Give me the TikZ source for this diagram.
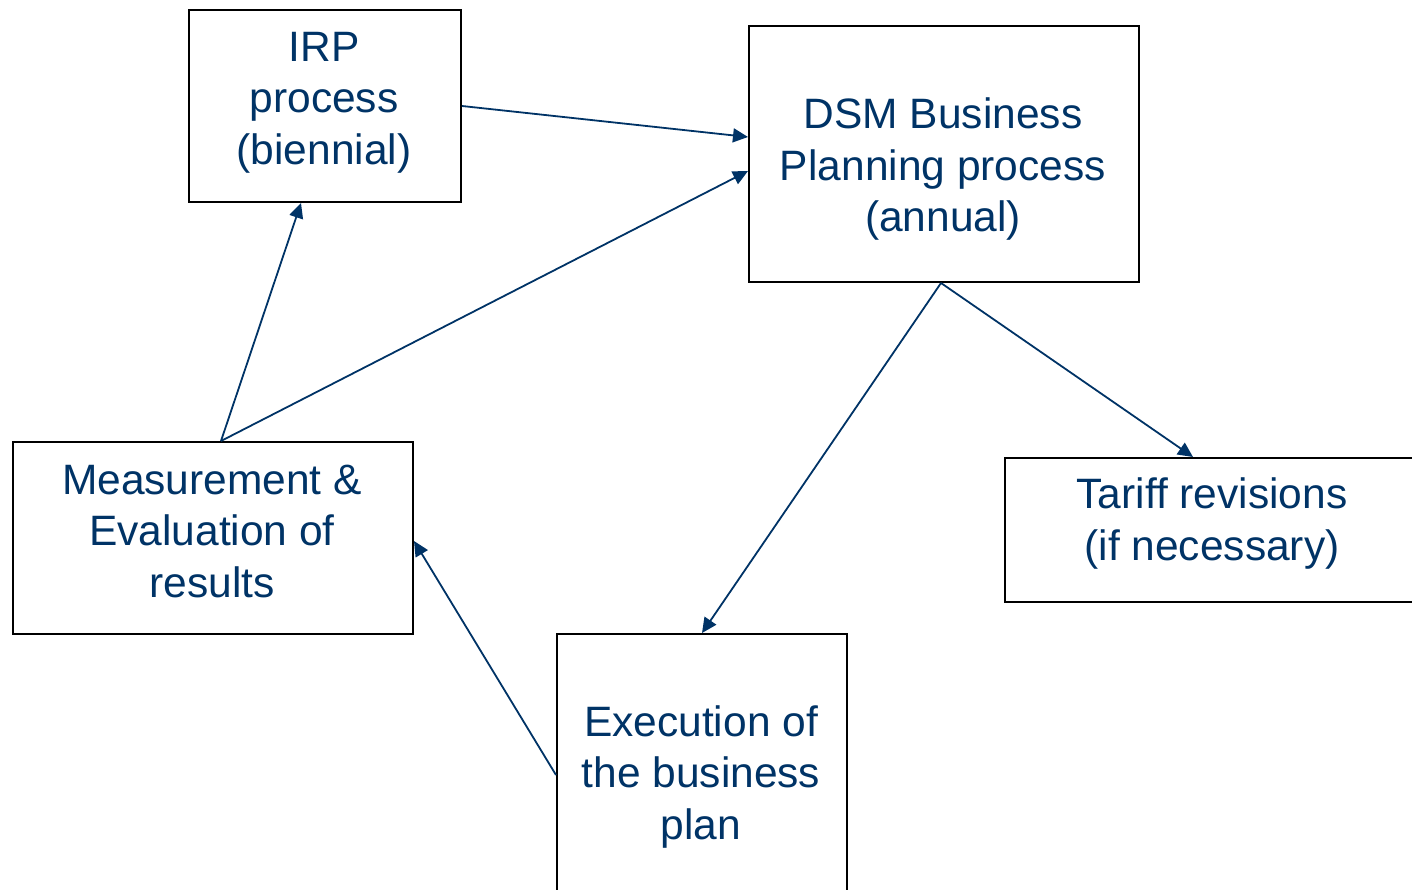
\documentclass[tikz,border=0pt]{standalone}
\usepackage{fontspec}
\setmainfont{Liberation Sans}
\usetikzlibrary{arrows.meta,calc}
\definecolor{navy}{RGB}{0,51,102}
\tikzset{
  box/.style={draw=black, line width=2pt, fill=none, inner sep=0pt, anchor=north west},
  txt/.style={text=navy, align=center, font=\fontsize{42.5}{51.5}\selectfont, inner sep=0pt},
  link/.style={draw=navy, line width=1.8pt, -{Triangle[length=15pt,width=14pt]}}
}
\begin{document}
\begin{tikzpicture}[x=1pt,y=-1pt]
\useasboundingbox (0,0) rectangle (1412,890);
% frames
\node[box, minimum width=272pt, minimum height=192pt] (irp) at (188,9) {};
\node[box, minimum width=390pt, minimum height=256pt] (dsm) at (748,25) {};
\node[box, minimum width=400pt, minimum height=192pt] (meas) at (12,441) {};
\node[box, minimum width=420pt, minimum height=144pt] (tariff) at (1004,457) {};
\node[box, minimum width=290pt, minimum height=270pt] (exec) at (556,633) {};
% captions
\node[txt] (irpT) at (324,102.5) {IRP\\process\\(biennial)};
\node[txt] (dsmT) at (943,169.5) {DSM Business\\Planning process\\(annual)};
\node[txt] (measT) at (212,531) {Measurement \&\\Evaluation of\\results};
\node[txt] (tariffT) at (1212,523.5) {Tariff revisions\\(if necessary)};
\node[txt] (execT) at (701,777) {Execution of\\the business\\plan};
% connectors
\draw[link] (irp.east) -- ($(dsm.west)+(0,-17)$);
\draw[link] ($(meas.north)+(8,0)$) -- ($(irp.south)+(-24,0)$);
\draw[link] ($(meas.north)+(8,0)$) -- ($(dsm.west)+(0,17)$);
\draw[link] ($(dsm.south)+(-3,0)$) -- ($(tariff.north west)+(189,0)$);
\draw[link] ($(dsm.south)+(-3,0)$) -- (exec.north);
\draw[link] ($(exec.north west)+(0,142)$) -- ($(meas.east)+(0,3)$);
\end{tikzpicture}
\end{document}
